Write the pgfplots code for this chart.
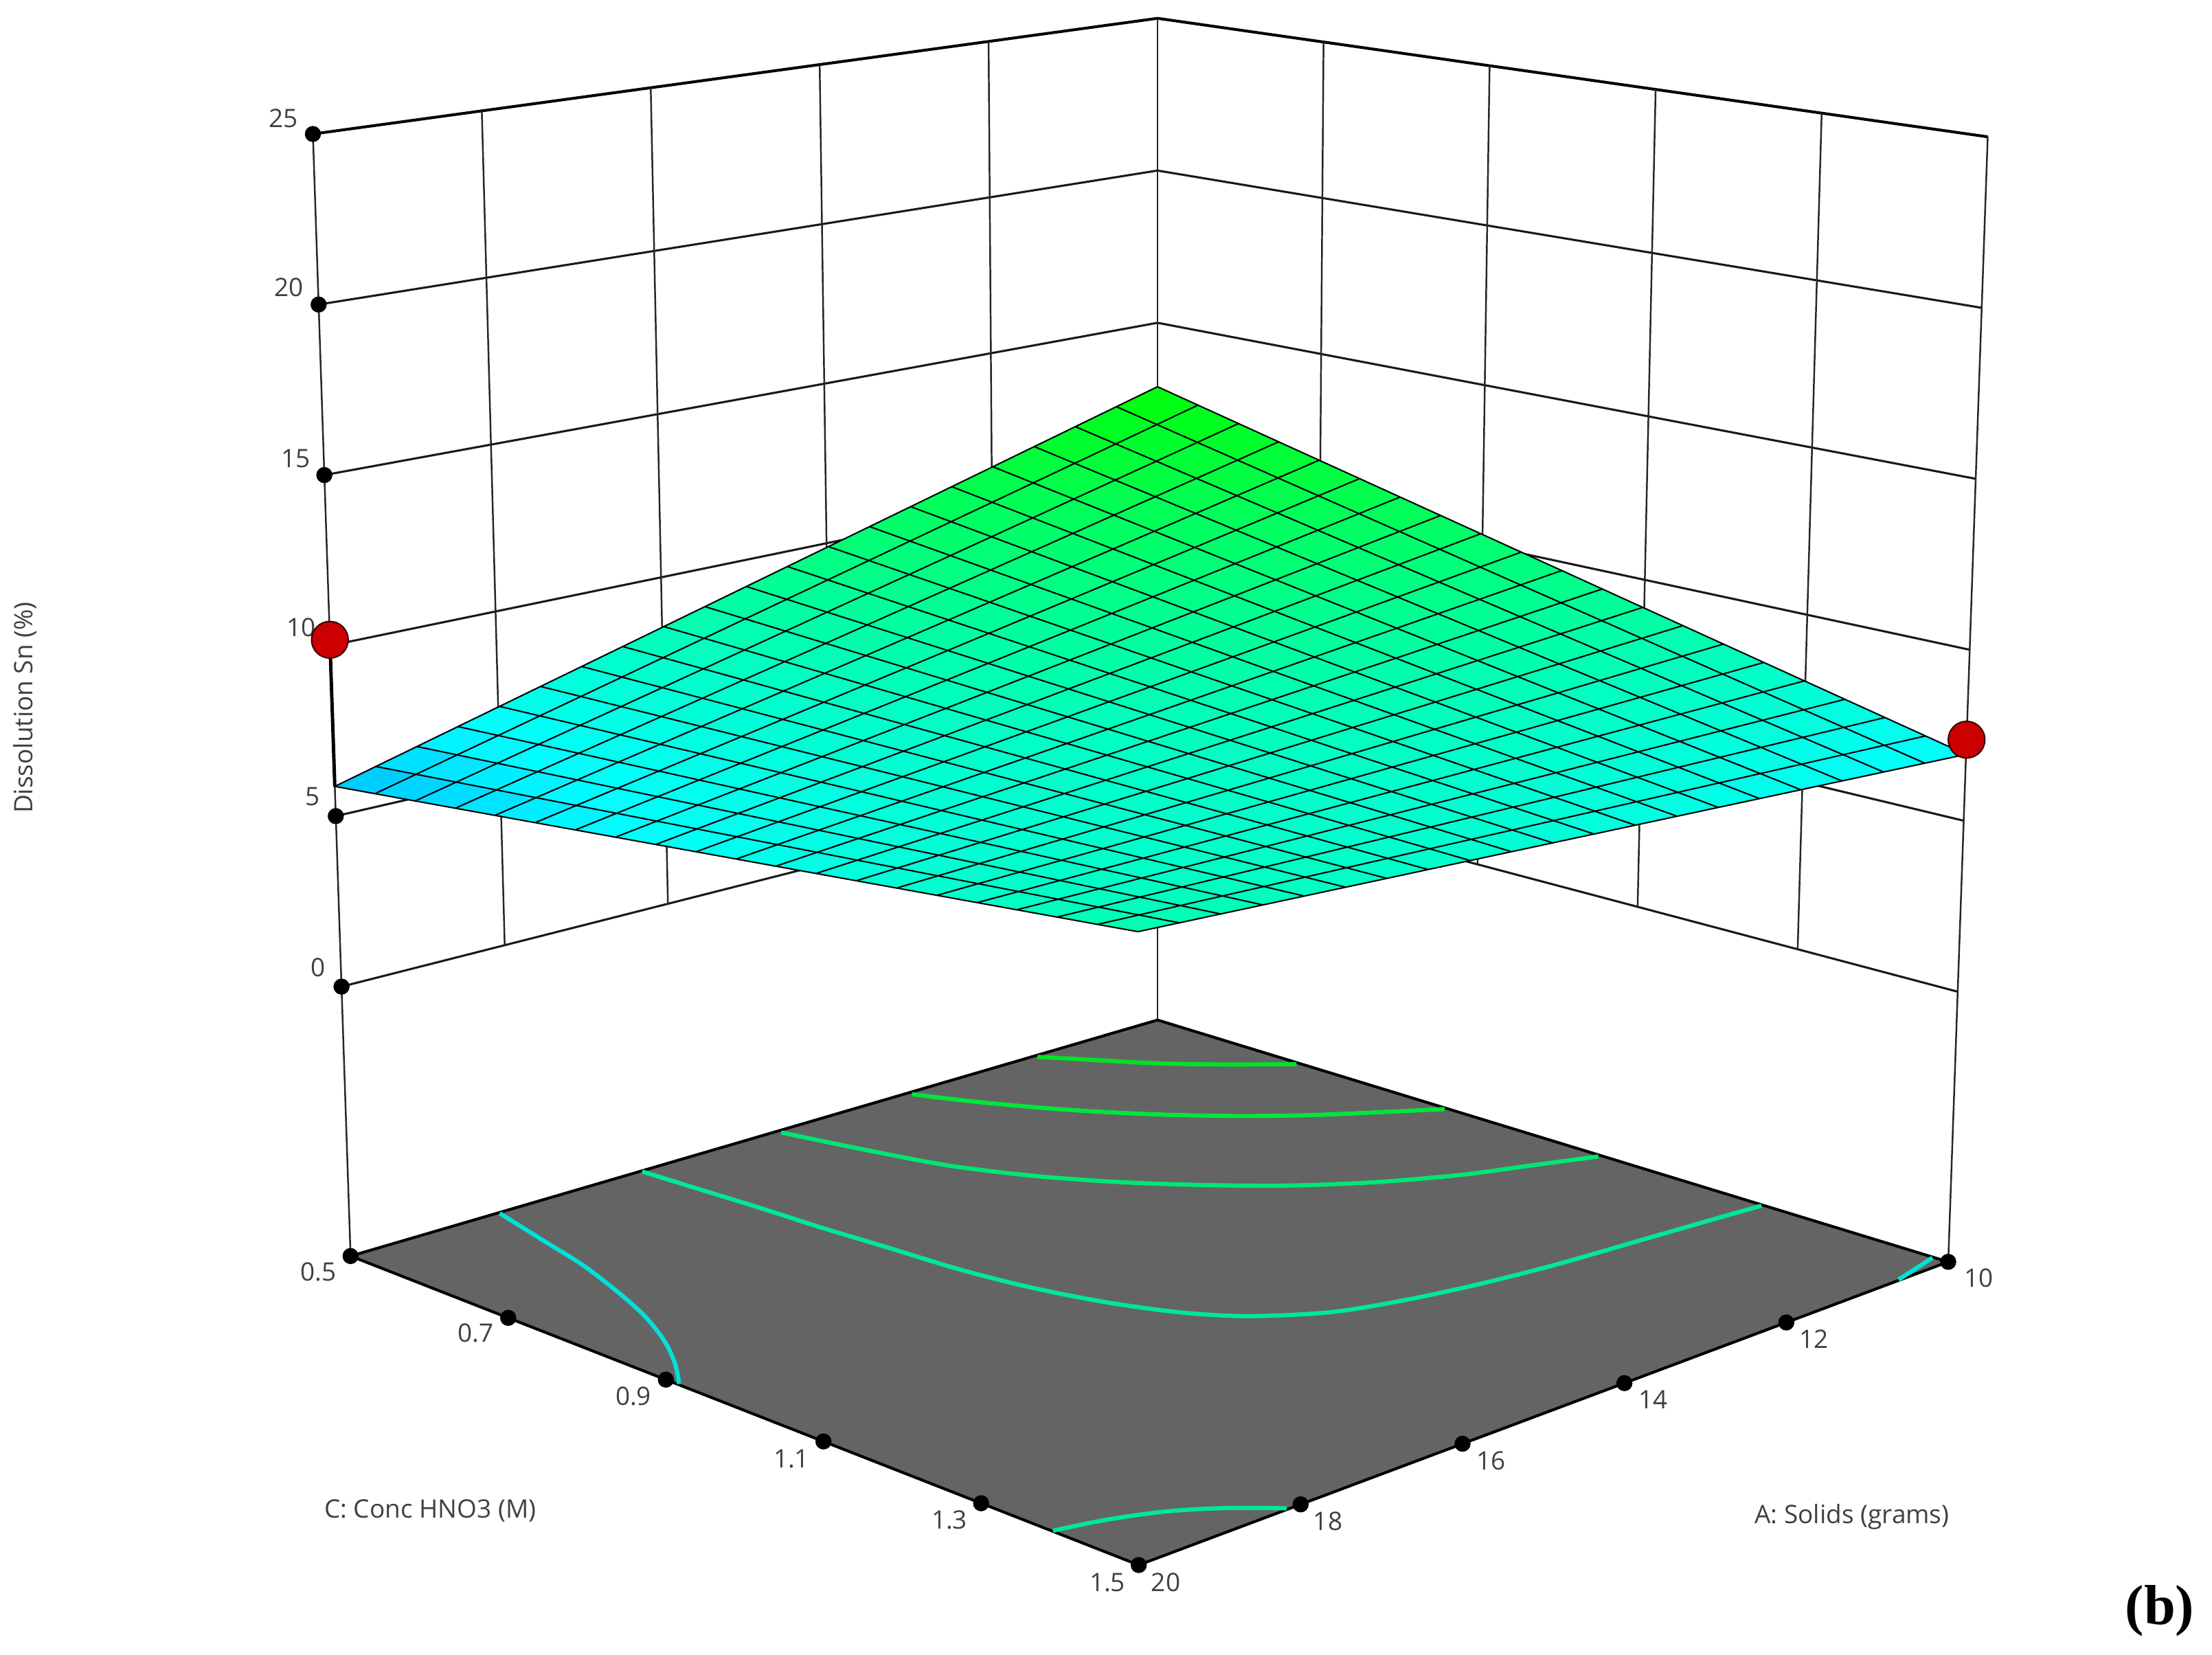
\documentclass[border=0pt]{standalone}
\usepackage{fontspec}
\setmainfont{Open Sans}
\newfontfamily\capfont{Liberation Serif}
\usepackage{pgfplots}
\usepackage{pgfplotstable}
\pgfplotsset{compat=1.18}

\definecolor{floorgray}{RGB}{100,100,100}
\definecolor{labgray}{RGB}{64,64,64}
\definecolor{reddot}{RGB}{204,0,0}
\definecolor{c1}{RGB}{0,225,40}
\definecolor{c2}{RGB}{0,230,60}
\definecolor{c3}{RGB}{0,230,115}
\definecolor{c4}{RGB}{0,230,160}
\definecolor{c5}{RGB}{0,225,215}

% surface: A (grams), C (M), Sn (%)
\pgfplotstableread[row sep=\\]{
A C Z\\
10 0.5 12.90\\10.5 0.5 12.55\\11 0.5 12.20\\11.5 0.5 11.85\\12 0.5 11.49\\12.5 0.5 11.14\\13 0.5 10.79\\13.5 0.5 10.44\\14 0.5 10.09\\14.5 0.5 9.74\\15 0.5 9.39\\15.5 0.5 9.03\\16 0.5 8.68\\16.5 0.5 8.33\\17 0.5 7.98\\17.5 0.5 7.63\\18 0.5 7.28\\18.5 0.5 6.92\\19 0.5 6.57\\19.5 0.5 6.22\\20 0.5 5.87\\
10 0.55 12.60\\10.5 0.55 12.27\\11 0.55 11.94\\11.5 0.55 11.62\\12 0.55 11.29\\12.5 0.55 10.96\\13 0.55 10.63\\13.5 0.55 10.30\\14 0.55 9.97\\14.5 0.55 9.64\\15 0.55 9.31\\15.5 0.55 8.98\\16 0.55 8.65\\16.5 0.55 8.33\\17 0.55 8.00\\17.5 0.55 7.67\\18 0.55 7.34\\18.5 0.55 7.01\\19 0.55 6.68\\19.5 0.55 6.35\\20 0.55 6.02\\
10 0.6 12.30\\10.5 0.6 12.00\\11 0.6 11.69\\11.5 0.6 11.38\\12 0.6 11.08\\12.5 0.6 10.77\\13 0.6 10.46\\13.5 0.6 10.16\\14 0.6 9.85\\14.5 0.6 9.54\\15 0.6 9.24\\15.5 0.6 8.93\\16 0.6 8.62\\16.5 0.6 8.32\\17 0.6 8.01\\17.5 0.6 7.70\\18 0.6 7.40\\18.5 0.6 7.09\\19 0.6 6.79\\19.5 0.6 6.48\\20 0.6 6.17\\
10 0.65 12.01\\10.5 0.65 11.72\\11 0.65 11.44\\11.5 0.65 11.15\\12 0.65 10.87\\12.5 0.65 10.59\\13 0.65 10.30\\13.5 0.65 10.02\\14 0.65 9.73\\14.5 0.65 9.45\\15 0.65 9.17\\15.5 0.65 8.88\\16 0.65 8.60\\16.5 0.65 8.31\\17 0.65 8.03\\17.5 0.65 7.75\\18 0.65 7.46\\18.5 0.65 7.18\\19 0.65 6.89\\19.5 0.65 6.61\\20 0.65 6.32\\
10 0.7 11.71\\10.5 0.7 11.45\\11 0.7 11.18\\11.5 0.7 10.92\\12 0.7 10.66\\12.5 0.7 10.40\\13 0.7 10.14\\13.5 0.7 9.88\\14 0.7 9.62\\14.5 0.7 9.35\\15 0.7 9.09\\15.5 0.7 8.83\\16 0.7 8.57\\16.5 0.7 8.31\\17 0.7 8.05\\17.5 0.7 7.78\\18 0.7 7.52\\18.5 0.7 7.26\\19 0.7 7.00\\19.5 0.7 6.74\\20 0.7 6.48\\
10 0.75 11.41\\10.5 0.75 11.17\\11 0.75 10.93\\11.5 0.75 10.69\\12 0.75 10.45\\12.5 0.75 10.21\\13 0.75 9.98\\13.5 0.75 9.74\\14 0.75 9.50\\14.5 0.75 9.26\\15 0.75 9.02\\15.5 0.75 8.78\\16 0.75 8.54\\16.5 0.75 8.30\\17 0.75 8.06\\17.5 0.75 7.82\\18 0.75 7.58\\18.5 0.75 7.34\\19 0.75 7.11\\19.5 0.75 6.87\\20 0.75 6.63\\
10 0.8 11.11\\10.5 0.8 10.90\\11 0.8 10.68\\11.5 0.8 10.46\\12 0.8 10.25\\12.5 0.8 10.03\\13 0.8 9.81\\13.5 0.8 9.60\\14 0.8 9.38\\14.5 0.8 9.16\\15 0.8 8.94\\15.5 0.8 8.73\\16 0.8 8.51\\16.5 0.8 8.29\\17 0.8 8.08\\17.5 0.8 7.86\\18 0.8 7.64\\18.5 0.8 7.43\\19 0.8 7.21\\19.5 0.8 6.99\\20 0.8 6.78\\
10 0.85 10.81\\10.5 0.85 10.62\\11 0.85 10.43\\11.5 0.85 10.23\\12 0.85 10.04\\12.5 0.85 9.84\\13 0.85 9.65\\13.5 0.85 9.46\\14 0.85 9.26\\14.5 0.85 9.07\\15 0.85 8.87\\15.5 0.85 8.68\\16 0.85 8.48\\16.5 0.85 8.29\\17 0.85 8.10\\17.5 0.85 7.90\\18 0.85 7.71\\18.5 0.85 7.51\\19 0.85 7.32\\19.5 0.85 7.12\\20 0.85 6.93\\
10 0.9 10.52\\10.5 0.9 10.34\\11 0.9 10.17\\11.5 0.9 10.00\\12 0.9 9.83\\12.5 0.9 9.66\\13 0.9 9.49\\13.5 0.9 9.31\\14 0.9 9.14\\14.5 0.9 8.97\\15 0.9 8.80\\15.5 0.9 8.63\\16 0.9 8.46\\16.5 0.9 8.28\\17 0.9 8.11\\17.5 0.9 7.94\\18 0.9 7.77\\18.5 0.9 7.60\\19 0.9 7.43\\19.5 0.9 7.25\\20 0.9 7.08\\
10 0.95 10.22\\10.5 0.95 10.07\\11 0.95 9.92\\11.5 0.95 9.77\\12 0.95 9.62\\12.5 0.95 9.47\\13 0.95 9.32\\13.5 0.95 9.17\\14 0.95 9.02\\14.5 0.95 8.87\\15 0.95 8.73\\15.5 0.95 8.58\\16 0.95 8.43\\16.5 0.95 8.28\\17 0.95 8.13\\17.5 0.95 7.98\\18 0.95 7.83\\18.5 0.95 7.68\\19 0.95 7.53\\19.5 0.95 7.38\\20 0.95 7.23\\
10 1 9.92\\10.5 1 9.79\\11 1 9.67\\11.5 1 9.54\\12 1 9.41\\12.5 1 9.29\\13 1 9.16\\13.5 1 9.03\\14 1 8.91\\14.5 1 8.78\\15 1 8.65\\15.5 1 8.53\\16 1 8.40\\16.5 1 8.27\\17 1 8.14\\17.5 1 8.02\\18 1 7.89\\18.5 1 7.76\\19 1 7.64\\19.5 1 7.51\\20 1 7.38\\
10 1.05 9.62\\10.5 1.05 9.52\\11 1.05 9.41\\11.5 1.05 9.31\\12 1.05 9.20\\12.5 1.05 9.10\\13 1.05 9.00\\13.5 1.05 8.89\\14 1.05 8.79\\14.5 1.05 8.68\\15 1.05 8.58\\15.5 1.05 8.47\\16 1.05 8.37\\16.5 1.05 8.27\\17 1.05 8.16\\17.5 1.05 8.06\\18 1.05 7.95\\18.5 1.05 7.85\\19 1.05 7.74\\19.5 1.05 7.64\\20 1.05 7.54\\
10 1.1 9.32\\10.5 1.1 9.24\\11 1.1 9.16\\11.5 1.1 9.08\\12 1.1 9.00\\12.5 1.1 8.92\\13 1.1 8.83\\13.5 1.1 8.75\\14 1.1 8.67\\14.5 1.1 8.59\\15 1.1 8.51\\15.5 1.1 8.42\\16 1.1 8.34\\16.5 1.1 8.26\\17 1.1 8.18\\17.5 1.1 8.10\\18 1.1 8.02\\18.5 1.1 7.93\\19 1.1 7.85\\19.5 1.1 7.77\\20 1.1 7.69\\
10 1.15 9.03\\10.5 1.15 8.97\\11 1.15 8.91\\11.5 1.15 8.85\\12 1.15 8.79\\12.5 1.15 8.73\\13 1.15 8.67\\13.5 1.15 8.61\\14 1.15 8.55\\14.5 1.15 8.49\\15 1.15 8.43\\15.5 1.15 8.37\\16 1.15 8.31\\16.5 1.15 8.26\\17 1.15 8.20\\17.5 1.15 8.14\\18 1.15 8.08\\18.5 1.15 8.02\\19 1.15 7.96\\19.5 1.15 7.90\\20 1.15 7.84\\
10 1.2 8.73\\10.5 1.2 8.69\\11 1.2 8.65\\11.5 1.2 8.62\\12 1.2 8.58\\12.5 1.2 8.54\\13 1.2 8.51\\13.5 1.2 8.47\\14 1.2 8.43\\14.5 1.2 8.40\\15 1.2 8.36\\15.5 1.2 8.32\\16 1.2 8.29\\16.5 1.2 8.25\\17 1.2 8.21\\17.5 1.2 8.18\\18 1.2 8.14\\18.5 1.2 8.10\\19 1.2 8.07\\19.5 1.2 8.03\\20 1.2 7.99\\
10 1.25 8.43\\10.5 1.25 8.42\\11 1.25 8.40\\11.5 1.25 8.39\\12 1.25 8.37\\12.5 1.25 8.36\\13 1.25 8.34\\13.5 1.25 8.33\\14 1.25 8.31\\14.5 1.25 8.30\\15 1.25 8.29\\15.5 1.25 8.27\\16 1.25 8.26\\16.5 1.25 8.24\\17 1.25 8.23\\17.5 1.25 8.21\\18 1.25 8.20\\18.5 1.25 8.19\\19 1.25 8.17\\19.5 1.25 8.16\\20 1.25 8.14\\
10 1.3 8.13\\10.5 1.3 8.14\\11 1.3 8.15\\11.5 1.3 8.16\\12 1.3 8.16\\12.5 1.3 8.17\\13 1.3 8.18\\13.5 1.3 8.19\\14 1.3 8.20\\14.5 1.3 8.20\\15 1.3 8.21\\15.5 1.3 8.22\\16 1.3 8.23\\16.5 1.3 8.24\\17 1.3 8.24\\17.5 1.3 8.25\\18 1.3 8.26\\18.5 1.3 8.27\\19 1.3 8.28\\19.5 1.3 8.29\\20 1.3 8.29\\
10 1.35 7.83\\10.5 1.35 7.86\\11 1.35 7.90\\11.5 1.35 7.93\\12 1.35 7.96\\12.5 1.35 7.99\\13 1.35 8.02\\13.5 1.35 8.05\\14 1.35 8.08\\14.5 1.35 8.11\\15 1.35 8.14\\15.5 1.35 8.17\\16 1.35 8.20\\16.5 1.35 8.23\\17 1.35 8.26\\17.5 1.35 8.29\\18 1.35 8.32\\18.5 1.35 8.35\\19 1.35 8.38\\19.5 1.35 8.42\\20 1.35 8.45\\
10 1.4 7.54\\10.5 1.4 7.59\\11 1.4 7.64\\11.5 1.4 7.70\\12 1.4 7.75\\12.5 1.4 7.80\\13 1.4 7.86\\13.5 1.4 7.91\\14 1.4 7.96\\14.5 1.4 8.01\\15 1.4 8.07\\15.5 1.4 8.12\\16 1.4 8.17\\16.5 1.4 8.23\\17 1.4 8.28\\17.5 1.4 8.33\\18 1.4 8.39\\18.5 1.4 8.44\\19 1.4 8.49\\19.5 1.4 8.54\\20 1.4 8.60\\
10 1.45 7.24\\10.5 1.45 7.31\\11 1.45 7.39\\11.5 1.45 7.46\\12 1.45 7.54\\12.5 1.45 7.62\\13 1.45 7.69\\13.5 1.45 7.77\\14 1.45 7.84\\14.5 1.45 7.92\\15 1.45 7.99\\15.5 1.45 8.07\\16 1.45 8.14\\16.5 1.45 8.22\\17 1.45 8.29\\17.5 1.45 8.37\\18 1.45 8.45\\18.5 1.45 8.52\\19 1.45 8.60\\19.5 1.45 8.67\\20 1.45 8.75\\
10 1.5 6.94\\10.5 1.5 7.04\\11 1.5 7.14\\11.5 1.5 7.23\\12 1.5 7.33\\12.5 1.5 7.43\\13 1.5 7.53\\13.5 1.5 7.63\\14 1.5 7.72\\14.5 1.5 7.82\\15 1.5 7.92\\15.5 1.5 8.02\\16 1.5 8.12\\16.5 1.5 8.21\\17 1.5 8.31\\17.5 1.5 8.41\\18 1.5 8.51\\18.5 1.5 8.61\\19 1.5 8.70\\19.5 1.5 8.80\\20 1.5 8.90\\
}\surfdata

% projection of (A, C, Sn) on to the picture, from the box corners
\pgfplotsset{
  /pgfplots/table/proj/.style={
    x expr={px(\thisrow{A},\thisrow{C},\thisrow{Z})},
    y expr={py(\thisrow{A},\thisrow{C},\thisrow{Z})},
    z expr=0},
  % same, with the small bow taken out: the surface's grid lines are straight in the picture
  /pgfplots/table/sproj/.style={
    x expr={px(\thisrow{A},\thisrow{C},\thisrow{Z})-bx((\thisrow{A}-10)/10,\thisrow{C}-0.5)},
    y expr={py(\thisrow{A},\thisrow{C},\thisrow{Z})-by((\thisrow{A}-10)/10,\thisrow{C}-0.5)},
    z expr=0},
  /pgfplots/table/flat/.style={
    x=x, y expr={1173-\thisrow{y}}, z expr=0},
  wallz/.style={no marks,color=black!90,line width=1.5},
  wallv/.style={no marks,color=black!85,line width=1.2},
  dot/.style={only marks,mark=*,mark size=5.5,color=black},
  cont/.style={no marks,smooth,line width=3},
  gridl/.style={no marks,color=black,line width=1},
}
\newcommand{\seg}[7]{\addplot3[#1] table[proj,row sep=\\]{A C Z\\#2 #3 #4\\#5 #6 #7\\};}
\newcommand{\sseg}[6]{\addplot3[gridl] table[sproj,row sep=\\]{A C Z\\#1 #2 #3\\#4 #5 #6\\};}
\newcommand{\cl}[3]{\sseg{10}{#1}{#2}{20}{#1}{#3}}
\newcommand{\al}[3]{\sseg{#1}{0.5}{#2}{#1}{1.5}{#3}}
\newcommand{\lab}[3]{\node[text=labgray,font=\fontsize{18}{20}\selectfont] at (axis cs:#1,{1173-#2},0) {#3};}

\begin{document}
\begin{tikzpicture}[declare function={
  fx(\pu,\pv)=820.5-572*\pu+560.5*\pv-1.8*\pu*\pv;
  fy(\pu,\pv)=723+167.3*\pu+171.4*\pv+47.6*\pu*\pv;
  tx(\pu,\pv)=820.5-598.7*\pu+588.5*\pv-4.3*\pu*\pv;
  ty(\pu,\pv)=13+82*\pu+84*\pv+51.2*\pu*\pv;
  bx(\pu,\pv)=\pu*(1-\pu)*(-5.7+6.8*\pv)+\pv*(1-\pv)*(5.07-8.1*\pu);
  by(\pu,\pv)=\pu*(1-\pu)*(18.2-24.1*\pv)+\pv*(1-\pv)*(15.8-24.5*\pu);
  px(\pa,\pc,\pz)=fx((\pa-10)/10,\pc-0.5)+(\pz+7.9)/32.9*(tx((\pa-10)/10,\pc-0.5)-fx((\pa-10)/10,\pc-0.5));
  py(\pa,\pc,\pz)=1173-(fy((\pa-10)/10,\pc-0.5)+(\pz+7.9)/32.9*(ty((\pa-10)/10,\pc-0.5)-fy((\pa-10)/10,\pc-0.5)));
}]
\path[use as bounding box] (0,0) rectangle (1568pt,1173pt);
\begin{axis}[
  anchor=south west,at={(0,0)},
  scale only axis,width=1568pt,height=1173pt,
  view={0}{90},hide axis,clip=false,
  xmin=0,xmax=1568,ymin=0,ymax=1173,zmin=-1,zmax=1,
  colormap={dx}{rgb255(55)=(0,170,255) rgb255(70)=(0,255,255) rgb255(130)=(0,255,0)},
  point meta min=5.5,point meta max=13,
]
% wall grid
\seg{wallz}{10}{0.5}{0}{20}{0.5}{0}
\seg{wallz}{10}{0.5}{5}{20}{0.5}{5}
\seg{wallz}{10}{0.5}{10}{20}{0.5}{10}
\seg{wallz}{10}{0.5}{15}{20}{0.5}{15}
\seg{wallz}{10}{0.5}{20}{20}{0.5}{20}
\seg{wallz,line width=2,color=black}{10}{0.5}{25}{20}{0.5}{25}
\seg{wallz}{10}{0.5}{0}{10}{1.5}{0}
\seg{wallz}{10}{0.5}{5}{10}{1.5}{5}
\seg{wallz}{10}{0.5}{10}{10}{1.5}{10}
\seg{wallz}{10}{0.5}{15}{10}{1.5}{15}
\seg{wallz}{10}{0.5}{20}{10}{1.5}{20}
\seg{wallz,line width=2,color=black}{10}{0.5}{25}{10}{1.5}{25}
\seg{wallv}{12}{0.5}{0}{12}{0.5}{25}
\seg{wallv}{14}{0.5}{0}{14}{0.5}{25}
\seg{wallv}{16}{0.5}{0}{16}{0.5}{25}
\seg{wallv}{18}{0.5}{0}{18}{0.5}{25}
\seg{wallv}{10}{0.7}{0}{10}{0.7}{25}
\seg{wallv}{10}{0.9}{0}{10}{0.9}{25}
\seg{wallv}{10}{1.1}{0}{10}{1.1}{25}
\seg{wallv}{10}{1.3}{0}{10}{1.3}{25}
\seg{wallv}{10}{0.5}{-7.9}{10}{0.5}{25}
\seg{wallv}{20}{0.5}{-7.9}{20}{0.5}{25}
\seg{wallv}{10}{1.5}{-7.9}{10}{1.5}{25}

% floor
\addplot3[fill=floorgray,draw=black,line width=2] table[proj,row sep=\\]{
A C Z\\10 0.5 -7.9\\20 0.5 -7.9\\20 1.5 -7.9\\10 1.5 -7.9\\10 0.5 -7.9\\};

% contours on the floor, in picture coordinates
\addplot3[cont,c1] table[flat,row sep=\\]{x y\\735.4 749.1\\769.7 751\\818.1 753.6\\866.6 754.5\\919 754.3\\};
\addplot3[cont,c2] table[flat,row sep=\\]{x y\\646.5 775.6\\693 781.1\\753.5 786.4\\814.1 789.7\\874.6 791\\935.2 790.2\\1024 786.1\\};
\addplot3[cont,c3] table[flat,row sep=\\]{x y\\553.7 802.7\\612.2 814.8\\672.8 826.2\\733.3 833.5\\793.9 837.9\\854.5 840\\915 840.3\\975.6 837.9\\1036.1 832.7\\1084.6 826.2\\1133 819.7\\};
\addplot3[cont,c4] table[flat,row sep=\\]{x y\\455.2 830.4\\497.6 843.5\\542 857.2\\582.4 870.2\\626.8 883.5\\679.2 899.5\\730.4 912.5\\783.8 923\\837.2 930.3\\885.3 932.9\\944 930\\997.5 921.2\\1051 909.6\\1104.3 896\\1157.8 880.6\\1211.2 865.2\\1248.6 854.6\\};
\addplot3[cont,c5] table[flat,row sep=\\]{x y\\354.3 860\\384.5 878.9\\412.8 896.5\\437 915\\457.2 933\\471.3 951\\478.6 966.9\\481.4 981\\};
\addplot3[cont,c4] table[flat,row sep=\\]{x y\\746.4 1085\\783.8 1077.3\\826.6 1071.3\\869.3 1068.9\\912 1069.1\\};
\addplot3[cont,c5] table[flat,row sep=\\]{x y\\1369.8 891.5\\1358 899.2\\1345.8 907\\};

% tick dots
\addplot3[dot] table[proj,row sep=\\]{A C Z\\20 0.5 0\\20 0.5 5\\20 0.5 10\\20 0.5 15\\20 0.5 20\\20 0.5 25\\};
\addplot3[dot] table[proj,row sep=\\]{A C Z\\20 0.5 -7.9\\20 0.7 -7.9\\20 0.9 -7.9\\20 1.1 -7.9\\20 1.3 -7.9\\20 1.5 -7.9\\18 1.5 -7.9\\16 1.5 -7.9\\14 1.5 -7.9\\12 1.5 -7.9\\10 1.5 -7.9\\};

% response surface, its grid lines drawn over it
\addplot3[surf,shader=flat,mesh/rows=21,mesh/cols=21,
  point meta=\thisrow{Z}] table[sproj] {\surfdata};
\cl{0.5}{12.90}{5.87}\cl{0.55}{12.60}{6.02}\cl{0.6}{12.30}{6.17}\cl{0.65}{12.01}{6.32}\cl{0.7}{11.71}{6.48}
\cl{0.75}{11.41}{6.63}\cl{0.8}{11.11}{6.78}\cl{0.85}{10.81}{6.93}\cl{0.9}{10.52}{7.08}\cl{0.95}{10.22}{7.23}
\cl{1}{9.92}{7.38}\cl{1.05}{9.62}{7.54}\cl{1.1}{9.32}{7.69}\cl{1.15}{9.03}{7.84}\cl{1.2}{8.73}{7.99}
\cl{1.25}{8.43}{8.14}\cl{1.3}{8.13}{8.29}\cl{1.35}{7.83}{8.45}\cl{1.4}{7.54}{8.60}\cl{1.45}{7.24}{8.75}\cl{1.5}{6.94}{8.90}
\al{10}{12.90}{6.94}\al{10.5}{12.55}{7.04}\al{11}{12.20}{7.14}\al{11.5}{11.85}{7.23}\al{12}{11.49}{7.33}
\al{12.5}{11.14}{7.43}\al{13}{10.79}{7.53}\al{13.5}{10.44}{7.63}\al{14}{10.09}{7.72}\al{14.5}{9.74}{7.82}
\al{15}{9.39}{7.92}\al{15.5}{9.03}{8.02}\al{16}{8.68}{8.12}\al{16.5}{8.33}{8.21}\al{17}{7.98}{8.31}
\al{17.5}{7.63}{8.41}\al{18}{7.28}{8.51}\al{18.5}{6.92}{8.61}\al{19}{6.57}{8.70}\al{19.5}{6.22}{8.80}\al{20}{5.87}{8.90}

% design points
\seg{no marks,black,line width=2.4}{20}{0.5}{10.17}{20}{0.5}{5.87}
\seg{no marks,black,line width=2.4}{10}{1.5}{7.37}{10}{1.5}{6.94}
\addplot3[only marks,mark=*,mark size=13,mark options={fill=reddot,draw=black!70!reddot,line width=1}]
  table[proj,row sep=\\]{A C Z\\20 0.5 10.17\\10 1.5 7.37\\};

% labels
\lab{200.8}{83.7}{25}
\lab{204.9}{203.7}{20}
\lab{209.7}{325}{15}
\lab{213.4}{444.6}{10}
\lab{221.7}{564.5}{5}
\lab{225.5}{686}{0}
\node[text=labgray,rotate=90,font=\fontsize{18}{20}\selectfont] at (axis cs:17.7,{1173-501.6},0) {Dissolution Sn (\%)};
\lab{225.8}{901.7}{0.5}
\lab{337.2}{944.8}{0.7}
\lab{449}{989.8}{0.9}
\lab{561}{1034.3}{1.1}
\lab{673}{1077.4}{1.3}
\lab{785}{1121.7}{1.5}
\lab{305}{1070.8}{C: Conc HNO3 (M)}
\lab{1402.5}{905.7}{10}
\lab{1286}{949}{12}
\lab{1172}{992}{14}
\lab{1057}{1035.3}{16}
\lab{941.3}{1078.4}{18}
\lab{826.4}{1121.7}{20}
\lab{1312.8}{1075}{A: Solids (grams)}
\node[font=\capfont\bfseries\fontsize{40}{42}\selectfont] at (axis cs:1531,{1173-1142},0) {(b)};
\end{axis}
\end{tikzpicture}
\end{document}
